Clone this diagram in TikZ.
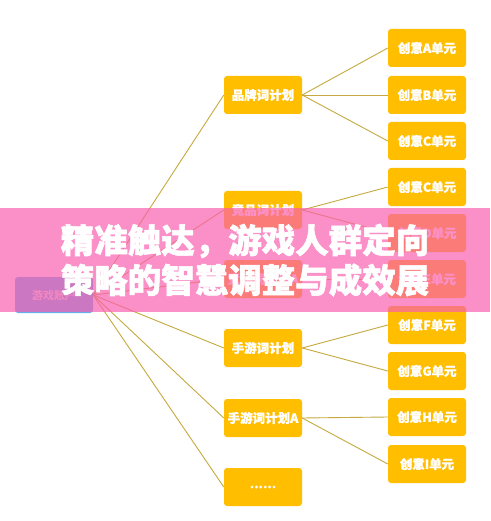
\documentclass[tikz,border=0pt]{standalone}
\usepackage{fontspec}
\newfontfamily\cjk[FakeBold=1.0]{Noto Sans CJK SC}
\newfontfamily\cjkheavy[FakeBold=1.6]{Noto Sans CJK SC}
\definecolor{boxyellow}{RGB}{255,190,0}
\definecolor{linkcol}{RGB}{196,170,64}
\definecolor{rootblue}{RGB}{100,176,236}
\definecolor{bandpink}{RGB}{250,94,174}
\tikzset{
  ybox/.style={fill=boxyellow, rounded corners=3pt, minimum width=78pt, minimum height=38pt,
    inner sep=0pt, text=white, font=\cjk\bfseries\fontsize{12.5}{14}\selectfont},
  rootbox/.style={fill=rootblue, rounded corners=3pt, minimum width=78pt, minimum height=36pt,
    inner sep=0pt, text=white, font=\cjk\fontsize{11}{13}\selectfont},
  link/.style={draw=linkcol, line width=0.9pt},
  titletext/.style={text=white, font=\cjkheavy\bfseries\fontsize{33.5}{38}\selectfont, inner sep=0pt}
}
\begin{document}
\begin{tikzpicture}[x=1pt,y=-1pt]
\useasboundingbox[fill=white] (0,0) rectangle (490,521);
% root
\node[rootbox] (root) at (54,295) {\textcolor{white!85!gray}{游戏账户}};
% middle column
\node[ybox] (m1) at (263,95) {品牌词计划};
\node[ybox] (m2) at (263,210) {竞品词计划};
\node[ybox] (m3) at (263,279) {竞品词计划A};
\node[ybox] (m4) at (263,348) {手游词计划};
\node[ybox] (m5) at (263,418) {手游词计划A};
\node[ybox] (m6) at (263,487) {......};
% right column
\node[ybox] (r1) at (427,48) {创意A单元};
\node[ybox] (r2) at (427,95) {创意B单元};
\node[ybox] (r3) at (427,141) {创意C单元};
\node[ybox] (r4) at (427,187) {创意C单元};
\node[ybox] (r5) at (427,233) {创意D单元};
\node[ybox] (r6) at (427,279) {创意E单元};
\node[ybox] (r7) at (427,325) {创意F单元};
\node[ybox] (r8) at (427,371) {创意G单元};
\node[ybox] (r9) at (427,417) {创意H单元};
\node[ybox] (r10) at (427,464) {创意I单元};
% links
\foreach \m in {m1,m2,m3,m4,m5,m6} \draw[link] (root.east) -- (\m.west);
\foreach \r in {r1,r2,r3} \draw[link] (m1.east) -- (\r.west);
\foreach \r in {r4,r5} \draw[link] (m2.east) -- (\r.west);
\draw[link] (m3.east) -- (r6.west);
\foreach \r in {r7,r8} \draw[link] (m4.east) -- (\r.west);
\foreach \r in {r9,r10} \draw[link] (m5.east) -- (\r.west);
% overlay band
\fill[bandpink, opacity=0.69] (0,208) rectangle (490,312);
\node[titletext] (t1) at (245,241) {精准触达，游戏人群定向};
\node[titletext] (t2) at (245,280) {策略的智慧调整与成效展};
\end{tikzpicture}
\end{document}
